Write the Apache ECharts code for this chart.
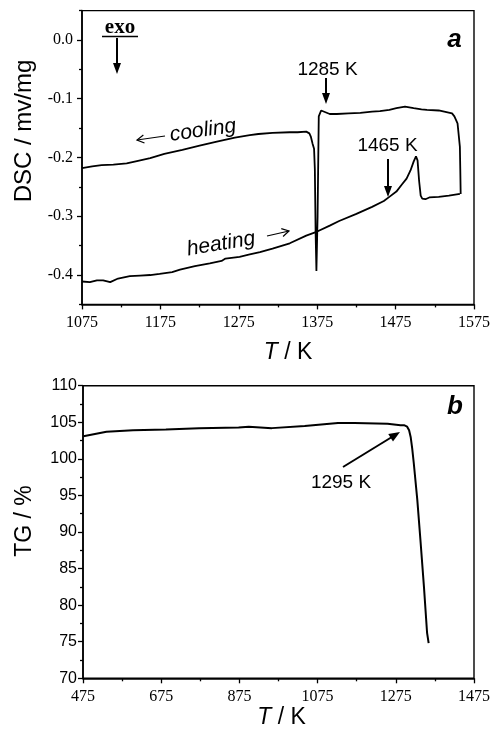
<!DOCTYPE html>
<html><head><meta charset="utf-8">
<script src="https://cdn.jsdelivr.net/npm/echarts@6/dist/echarts.min.js"></script>
<style>html,body{margin:0;padding:0;background:#fff}#c{width:493px;height:732px}</style>
</head><body><div id="c"></div>
<script>
// ---- data (T in K) ----
const heatingDSC = [
  [1075,-0.411],[1085,-0.412],[1094,-0.409],[1102,-0.409],[1111,-0.412],[1121,-0.406],
  [1136,-0.402],[1149,-0.401],[1162,-0.400],[1174,-0.398],[1190,-0.395],[1200,-0.391],
  [1219,-0.385],[1238,-0.380],[1253,-0.376],[1258,-0.372],[1276,-0.369],[1289,-0.365],
  [1302,-0.361],[1318,-0.355],[1340,-0.346],[1361,-0.333],[1375,-0.326],[1391,-0.316],
  [1403,-0.308],[1425,-0.296],[1445,-0.284],[1460,-0.274],[1467,-0.267],[1476,-0.258],
  [1483,-0.246],[1489,-0.236],[1494,-0.222],[1498,-0.207],[1501,-0.198],[1503,-0.205],
  [1505,-0.240],[1507,-0.265],[1509,-0.270],[1513,-0.271],[1518,-0.268],[1530,-0.267],
  [1543,-0.265],[1557,-0.262]
];
const coolingDSC = [
  [1558,-0.262],[1557.5,-0.220],[1557,-0.182],[1555,-0.155],[1554,-0.142],[1550,-0.130],
  [1547,-0.125],[1530,-0.120],[1515,-0.119],[1508,-0.118],[1498,-0.116],[1487,-0.1135],
  [1476,-0.116],[1467,-0.119],[1455,-0.121],[1445,-0.122],[1430,-0.124],[1415,-0.125],
  [1400,-0.126],[1391,-0.126],[1380,-0.120],[1378,-0.119],[1377,-0.130],[1375.5,-0.300],
  [1374,-0.393],[1373,-0.330],[1372,-0.220],[1371,-0.185],[1369,-0.176],[1367,-0.165],
  [1365,-0.159],[1361,-0.156],[1350,-0.157],[1340,-0.157],[1318,-0.158],[1300,-0.160],
  [1289,-0.162],[1270,-0.166],[1247,-0.173],[1225,-0.180],[1203,-0.187],[1180,-0.194],
  [1162,-0.201],[1145,-0.206],[1132,-0.210],[1115,-0.212],[1100,-0.213],[1088,-0.215],
  [1075,-0.218]
];
const tgCurve = [
  [476,103.1],[535,103.7],[603,103.9],[687,104.0],[772,104.2],[873,104.3],[899,104.4],
  [958,104.2],[1042,104.5],[1127,104.9],[1169,104.9],[1254,104.8],[1287,104.6],[1296,104.6],
  [1304,104.4],[1309,103.9],[1313,103.0],[1317,101.4],[1321,99.4],[1330,94.4],[1338,88.9],
  [1347,82.5],[1355,76.2],[1359,74.8]
];
const dscYLabels = ['0.0','-0.1','-0.2','-0.3','-0.4'];
const dscXRange = [1075, 1575];
const tgXRange = [475, 1475];
const tgYRange = [70, 110];

const SERIF = '"Liberation Serif","Times New Roman",serif';
const SANS = '"Liberation Sans",Arial,sans-serif';
const K = '#000';

function arrowEls(x1,y1,x2,y2,hl,hw,lw){
  const dx=x2-x1, dy=y2-y1, L=Math.hypot(dx,dy), ux=dx/L, uy=dy/L;
  const bx=x2-ux*hl, by=y2-uy*hl;
  return [
    {type:'line', shape:{x1:x1,y1:y1,x2:bx+ux,y2:by+uy}, style:{stroke:K,lineWidth:lw}},
    {type:'polygon', shape:{points:[[x2,y2],[bx-uy*hw,by+ux*hw],[bx+uy*hw,by-ux*hw]]}, style:{fill:K}}
  ];
}
function thinArrow(x1,y1,x2,y2,hl,hw,lw){
  const dx=x2-x1, dy=y2-y1, L=Math.hypot(dx,dy), ux=dx/L, uy=dy/L;
  const bx=x2-ux*hl, by=y2-uy*hl;
  return [
    {type:'line', shape:{x1:x1,y1:y1,x2:x2,y2:y2}, style:{stroke:K,lineWidth:lw}},
    {type:'polyline', shape:{points:[[bx-uy*hw,by+ux*hw],[x2,y2],[bx+uy*hw,by-ux*hw]]}, style:{stroke:K,lineWidth:lw,fill:null}}
  ];
}
function txt(x,y,text,opts){
  return Object.assign({type:'text', x:x, y:y, style:Object.assign({text:text, fill:K, align:'center', verticalAlign:'middle', fontFamily:SANS, fontSize:19}, opts.style||{})}, opts.el||{});
}
const deg = Math.PI/180;
const plainNum = function(v){ return String(v); };

const axisLineStyle = {show:true, onZero:false, lineStyle:{color:K,width:1.6}};
const chart = echarts.init(document.getElementById('c'), null, {renderer:'canvas'});
chart.setOption({
  animation:false,
  backgroundColor:'#fff',
  grid:[
    {left:82, right:17.5, top:10.6, height:293.8, show:true, borderColor:K, borderWidth:1.4},
    {left:83, right:15.7, top:385.7, height:292.6, show:true, borderColor:K, borderWidth:1.4}
  ],
  xAxis:[
    {gridIndex:0, type:'value', min:dscXRange[0], max:dscXRange[1], interval:100,
     axisLine:axisLineStyle, axisTick:{show:true,length:5,lineStyle:{color:K,width:1.3}},
     minorTick:{show:true,splitNumber:2,length:3,lineStyle:{color:K,width:1.3}},
     splitLine:{show:false}, minorSplitLine:{show:false},
     axisLabel:{color:K,fontFamily:SERIF,fontSize:16,margin:10,formatter:plainNum},
     name:'{i|T} / K', nameLocation:'middle', nameGap:37,
     nameTextStyle:{color:K,fontFamily:SANS,fontSize:23,padding:[0,0,0,20],
       rich:{i:{fontStyle:'italic',fontFamily:SANS,fontSize:23,color:K}}}},
    {gridIndex:1, type:'value', min:tgXRange[0], max:tgXRange[1], interval:200,
     axisLine:axisLineStyle, axisTick:{show:true,length:5,lineStyle:{color:K,width:1.3}},
     minorTick:{show:true,splitNumber:2,length:3,lineStyle:{color:K,width:1.3}},
     splitLine:{show:false},
     axisLabel:{color:K,fontFamily:SERIF,fontSize:16,margin:10,formatter:plainNum},
     name:'{i|T} / K', nameLocation:'middle', nameGap:28,
     nameTextStyle:{color:K,fontFamily:SANS,fontSize:23,padding:[0,0,0,6],
       rich:{i:{fontStyle:'italic',fontFamily:SANS,fontSize:23,color:K}}}}
  ],
  yAxis:[
    {gridIndex:0, type:'value', position:'left', min:-0.45, max:0.05, interval:0.1,
     axisLine:axisLineStyle, axisTick:{show:true,length:3,lineStyle:{color:K,width:1.3}},
     minorTick:{show:true,splitNumber:2,length:5,lineStyle:{color:K,width:1.3}},
     splitLine:{show:false}, axisLabel:{show:false},
     name:'DSC / mv/mg', nameLocation:'middle', nameGap:46,
     nameTextStyle:{color:K,fontFamily:SANS,fontSize:24,padding:[0,0,0,53]}},
    {gridIndex:0, type:'value', position:'left', min:-0.45, max:0.05, interval:0.05,
     axisLine:{show:false}, axisTick:{show:false}, splitLine:{show:false},
     axisLabel:{color:K,fontFamily:SERIF,fontSize:16,margin:9,
       formatter:function(v){
         const s = (Math.round(v*10)/10).toFixed(1).replace('-0.0','0.0');
         return (Math.abs(v*10-Math.round(v*10))<1e-6 && dscYLabels.indexOf(s)>=0) ? s : '';
       }}},
    {gridIndex:1, type:'value', position:'left', min:tgYRange[0], max:tgYRange[1], interval:5,
     axisLine:axisLineStyle, axisTick:{show:true,length:5,lineStyle:{color:K,width:1.3}},
     minorTick:{show:true,splitNumber:2,length:3,lineStyle:{color:K,width:1.3}},
     splitLine:{show:false},
     axisLabel:{color:K,fontFamily:SANS,fontSize:16,margin:6},
     name:'TG / %', nameLocation:'middle', nameGap:47,
     nameTextStyle:{color:K,fontFamily:SANS,fontSize:23,padding:[0,0,0,22]}}
  ],
  series:[
    {name:'heating', type:'line', xAxisIndex:0, yAxisIndex:0, data:heatingDSC, symbol:'none',
     lineStyle:{color:K,width:1.8}},
    {name:'cooling', type:'line', xAxisIndex:0, yAxisIndex:0, data:coolingDSC, symbol:'none',
     lineStyle:{color:K,width:1.8}},
    {name:'TG', type:'line', xAxisIndex:1, yAxisIndex:2, data:tgCurve, symbol:'none',
     lineStyle:{color:K,width:2}}
  ],
  graphic:[].concat(
    [txt(120,28,'exo',{style:{fontFamily:SERIF,fontWeight:'bold',fontSize:21}}),
     {type:'line', shape:{x1:102,y1:36.5,x2:138,y2:36.5}, style:{stroke:K,lineWidth:1.4}}],
    arrowEls(117,38,117,74,11,4,2),
    [txt(327.5,70,'1285 K',{})],
    arrowEls(326,78,326,104,11,4,2),
    [txt(387.5,146,'1465 K',{})],
    arrowEls(388,159,388,197,11,4,2),
    [txt(454.5,40,'a',{style:{fontWeight:'bold',fontStyle:'italic',fontSize:26}}),
     txt(455,407,'b',{style:{fontWeight:'bold',fontStyle:'italic',fontSize:26}}),
     txt(341,483,'1295 K',{})],
    arrowEls(343,467,400,432,11,4.5,2),
    [txt(203,130.5,'cooling',{style:{fontStyle:'italic',fontSize:21},el:{rotation:8*deg}})],
    thinArrow(165,136,137,140,7,4,1.2),
    [txt(221,244,'heating',{style:{fontStyle:'italic',fontSize:21},el:{rotation:9.6*deg}})],
    thinArrow(267,236,289,231,7,4,1.2)
  )
});
</script></body></html>
